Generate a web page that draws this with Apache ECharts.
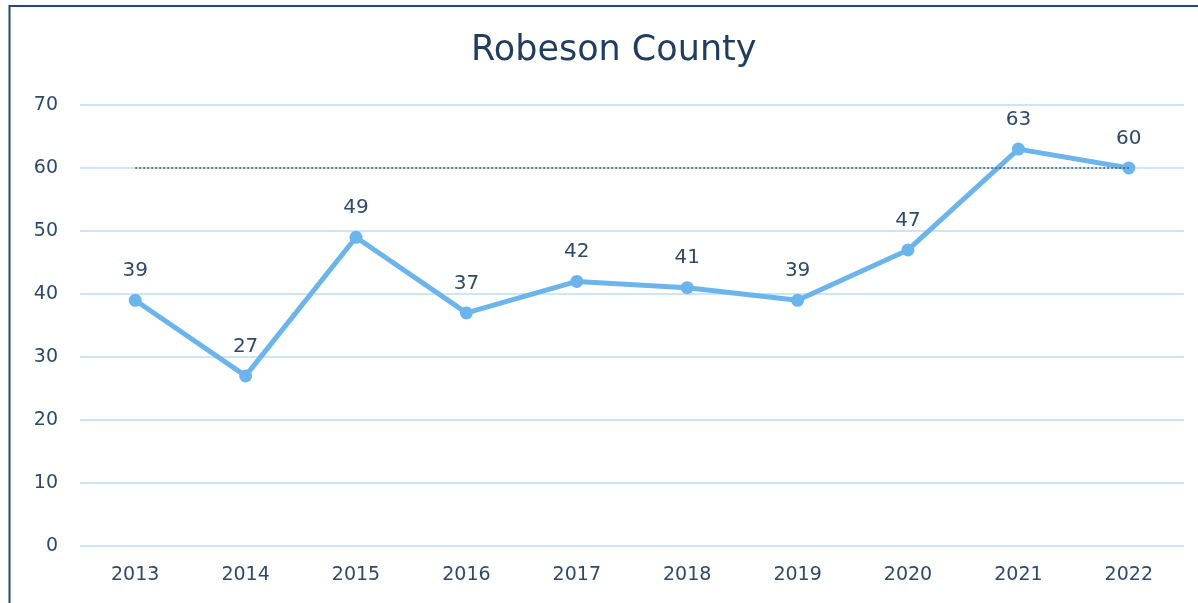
<!DOCTYPE html>
<html>
<head>
    <meta charset="UTF-8">
    <title>Robeson County</title>
    <script src="https://cdn.jsdelivr.net/npm/echarts@6/dist/echarts.min.js"></script>
    <style>
        html, body { margin: 0; padding: 0; background: #fff; }
        #myChart { width: 1198px; height: 603px; }
    </style>
</head>
<body>
<div id="myChart"></div>
<script>
// data
var years = ['2013', '2014', '2015', '2016', '2017', '2018', '2019', '2020', '2021', '2022'];
var values = [39, 27, 49, 37, 42, 41, 39, 47, 63, 60];
var targetValue = 60;

var textColor = '#2c4a6b';
var font = 'DejaVu Sans';

var chart = echarts.init(document.getElementById('myChart'), null, {renderer: 'canvas'});

var option = {
    backgroundColor: '#fff',
    title: {
        text: 'Robeson County',
        left: 466,
        top: 28,
        textStyle: {
            fontFamily: font,
            fontWeight: 'normal',
            fontSize: 35,
            color: '#1f3d5e'
        }
    },
    // frame around the chart (only top and left edges show)
    graphic: [{
        type: 'rect',
        shape: {x: 9.5, y: 6, width: 1300, height: 700},
        style: {fill: 'none', stroke: '#1f4a73', lineWidth: 2}
    }],
    grid: {
        left: 80,
        right: 14,
        top: 105,
        bottom: 57
    },
    xAxis: {
        type: 'category',
        data: years,
        boundaryGap: true,
        axisLine: {show: false},
        axisTick: {show: false},
        axisLabel: {
            margin: 20,
            fontFamily: font,
            fontSize: 19,
            color: textColor
        }
    },
    yAxis: {
        type: 'value',
        min: 0,
        max: 70,
        interval: 10,
        axisLine: {show: false},
        axisTick: {show: false},
        axisLabel: {
            margin: 22,
            fontFamily: font,
            fontSize: 19,
            color: textColor
        },
        splitLine: {
            lineStyle: {color: '#cde5f8', width: 2}
        }
    },
    series: [{
        type: 'line',
        data: values,
        symbol: 'circle',
        symbolSize: 13,
        lineStyle: {color: '#6cb5ec', width: 5},
        itemStyle: {color: '#6cb5ec'},
        label: {
            show: true,
            position: 'top',
            distance: 13,
            fontFamily: font,
            fontSize: 20,
            color: textColor
        },
        markLine: {
            silent: true,
            symbol: 'none',
            label: {show: false},
            lineStyle: {color: '#3a5878', type: [2, 2], width: 1.5},
            data: [[{coord: ['2013', targetValue]}, {coord: ['2022', targetValue]}]]
        }
    }]
};

chart.setOption(option);
</script>
</body>
</html>
